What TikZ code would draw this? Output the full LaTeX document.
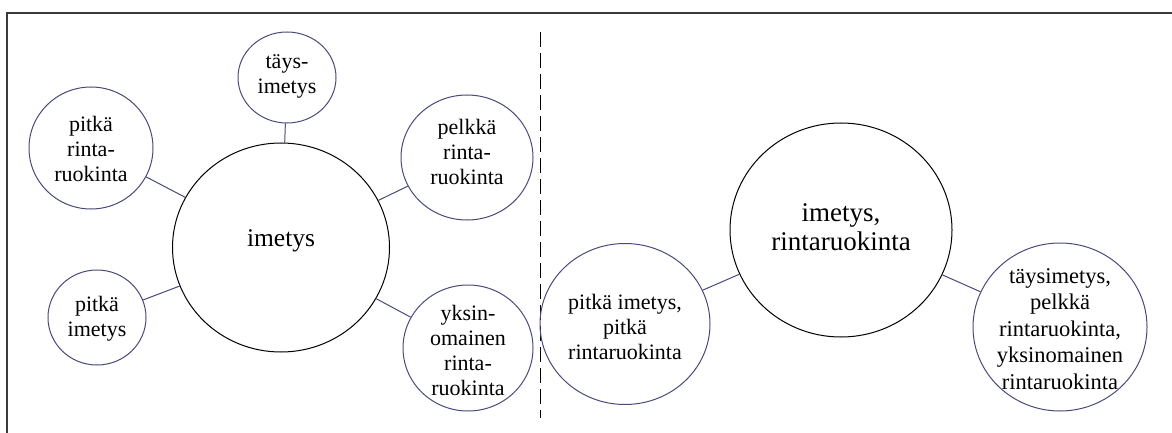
\documentclass[tikz,border=0pt]{standalone}
\usepackage{fontspec}
\setmainfont{Liberation Serif}
\usetikzlibrary{shapes.geometric}
\definecolor{bubc}{HTML}{4A4A7A}
\definecolor{framec}{HTML}{3A3A3A}
\tikzset{
  bubble/.style={ellipse, draw=bubc, line width=1pt, inner sep=0pt},
  hub/.style={ellipse, draw=black, line width=1pt, inner sep=0pt},
  smalltxt/.style={align=center, inner sep=0pt, font=\fontsize{22}{25}\selectfont},
  bigtxt/.style={align=center, inner sep=0pt},
  link/.style={draw=bubc, line width=1pt},
}
\begin{document}
\begin{tikzpicture}[x=1pt,y=-1pt]
\useasboundingbox (0,0) rectangle (1172,433);
\coordinate (fbl) at (7,433);
\coordinate (ftl) at (7,13);
\coordinate (ftr) at (1172,13);
\draw[framec, line width=2.2pt] (fbl) -- (ftl) -- (ftr);
\coordinate (dtop) at (540.5,32);
\coordinate (dbot) at (540.5,418);
\draw[black, line width=1.9pt, dash pattern=on 15pt off 6pt] (dtop) -- (dbot);

% left cluster
\node[hub, minimum width=217pt, minimum height=209pt] (c1) at (281,247.5) {};
\node[bubble, minimum width=98pt, minimum height=91pt] (t1) at (287,77.5) {};
\node[bubble, minimum width=124pt, minimum height=122pt] (pr) at (91,148) {};
\node[bubble, minimum width=132pt, minimum height=125pt] (pe) at (467,157.5) {};
\node[bubble, minimum width=98pt, minimum height=95pt] (pi) at (97,317.5) {};
\node[bubble, minimum width=130pt, minimum height=126pt] (yk) at (468,348) {};

\node[bigtxt, font=\fontsize{25.5}{29}\selectfont] (c1t) at (281,240.5) {imetys};
\node[smalltxt] (t1t) at (287,76.5) {täys-\\imetys};
\node[smalltxt] (prt) at (91,149) {pitkä\\rinta-\\ruokinta};
\node[smalltxt] (pet) at (467,152) {pelkkä\\rinta-\\ruokinta};
\node[smalltxt] (pit) at (97,319) {pitkä\\imetys};
\node[smalltxt] (ykt) at (468,350) {yksin-\\omainen\\rinta-\\ruokinta};

\draw[link] (c1) -- (t1);
\draw[link] (c1) -- (pr);
\draw[link] (c1) -- (pe);
\draw[link] (c1) -- (pi);
\draw[link] (c1) -- (yk);

% right cluster
\node[hub, minimum width=222pt, minimum height=214pt] (c2) at (841,230) {};
\node[bubble, minimum width=170pt, minimum height=161pt] (pp) at (625,324) {};
\node[bubble, minimum width=174pt, minimum height=168pt] (ta) at (1060,327) {};

\node[bigtxt, font=\fontsize{27}{29}\selectfont] (c2t) at (841,227) {imetys,\\rintaruokinta};
\node[smalltxt] (ppt) at (625,327) {pitkä imetys,\\pitkä\\rintaruokinta};
\node[smalltxt, font=\fontsize{22.5}{26.5}\selectfont] (tat) at (1060,329) {täysimetys,\\pelkkä\\rintaruokinta,\\yksinomainen\\rintaruokinta};

\draw[link] (c2) -- (pp);
\draw[link] (c2) -- (ta);
\end{tikzpicture}
\end{document}
